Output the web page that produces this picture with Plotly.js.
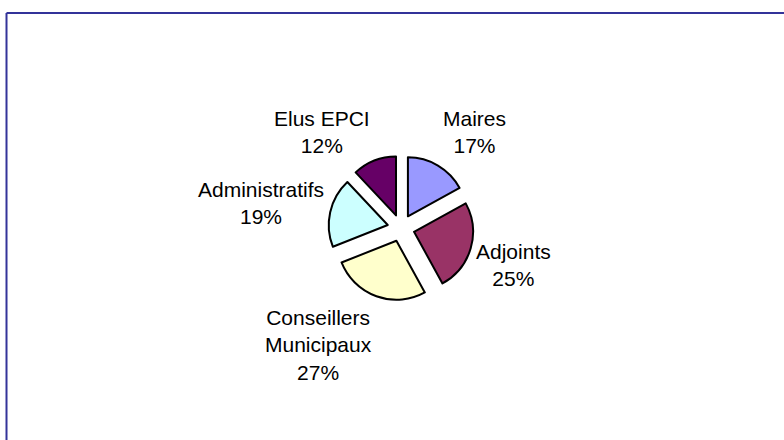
<!DOCTYPE html>
<html>
<head>
<meta charset="utf-8">
<script src="https://cdn.plot.ly/plotly-3.0.1.min.js"></script>
<style>
  html, body { margin: 0; padding: 0; background: #ffffff; }
  #chart { width: 784px; height: 440px; }
</style>
</head>
<body>
<div id="chart"></div>
<script>
// ---- data ----
const categories = ['Maires', 'Adjoints', 'Conseillers Municipaux', 'Administratifs', 'Elus EPCI'];
const labelLines = ['Maires', 'Adjoints', 'Conseillers<br>Municipaux', 'Administratifs', 'Elus EPCI'];
const percents = [17, 25, 27, 19, 12];
const sliceColors = ['#9999FF', '#993366', '#FFFFCC', '#CCFFFF', '#660066'];

// ---- layout helpers (pixel positions of label centres) ----
const W = 784, H = 440;
const labelPos = [[474, 132], [513, 265], [318, 345], [261, 203], [322, 132]];
const pieCx = 401, pieCy = 228, pieR = 59, pull = 0.23;
const half = pieR * (1 + pull);

const trace = {
  type: 'pie',
  labels: categories,
  values: percents,
  sort: false,
  direction: 'clockwise',
  rotation: 0,
  pull: pull,
  textposition: 'none',
  hoverinfo: 'label+percent',
  marker: { colors: sliceColors, line: { color: '#000000', width: 2 } },
  domain: {
    x: [(pieCx - half) / W, (pieCx + half) / W],
    y: [1 - (pieCy + half) / H, 1 - (pieCy - half) / H]
  },
  showlegend: false
};

const annotations = categories.map((c, i) => ({
  xref: 'paper', yref: 'paper',
  x: labelPos[i][0] / W, y: 1 - labelPos[i][1] / H,
  xanchor: 'center', yanchor: 'middle',
  text: labelLines[i] + '<br>' + percents[i] + '%',
  showarrow: false,
  align: 'center',
  font: { family: '"Liberation Sans", Arial, sans-serif', size: 21, color: '#000000' }
}));

const layout = {
  width: W, height: H,
  margin: { l: 0, r: 0, t: 0, b: 0 },
  paper_bgcolor: '#ffffff',
  plot_bgcolor: '#ffffff',
  showlegend: false,
  annotations: annotations,
  shapes: [
    { type: 'line', xref: 'paper', yref: 'paper', x0: 6.5 / W, x1: 1.02, y0: 1 - 13 / H, y1: 1 - 13 / H,
      line: { color: '#333399', width: 2 } },
    { type: 'line', xref: 'paper', yref: 'paper', x0: 6.5 / W, x1: 6.5 / W, y0: 1 - 13 / H, y1: -0.05,
      line: { color: '#333399', width: 2 } }
  ]
};

Plotly.newPlot('chart', [trace], layout, { displayModeBar: false, staticPlot: true });
</script>
</body>
</html>
